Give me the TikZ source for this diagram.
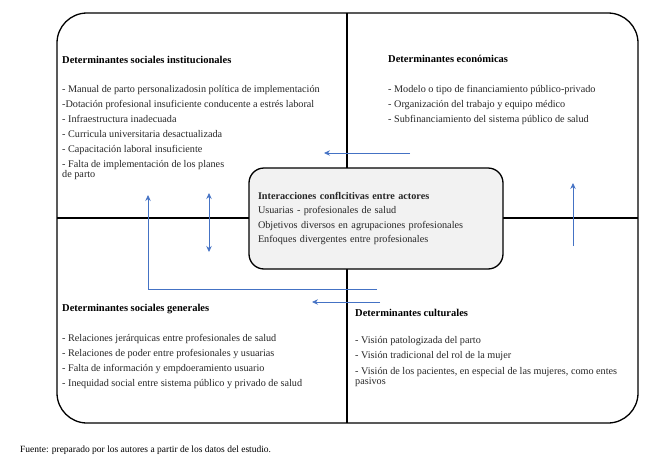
\documentclass[tikz,border=0pt]{standalone}
\usepackage{fontspec}
\setmainfont{Liberation Serif}
\usetikzlibrary{arrows.meta,positioning}
\definecolor{ArrowBlue}{RGB}{68,114,196}
\definecolor{HubGray}{RGB}{242,242,242}
\newcommand{\txtsize}{\fontsize{10.2}{10.6}\selectfont}
\tikzset{
  frame/.style={line width=1.3pt,black},
  head/.style={font=\fontsize{10.5}{11}\selectfont\bfseries,anchor=base west,inner sep=0pt},
  items/.style={font=\txtsize,anchor=north west,align=left,inner sep=0pt,text=black!85},
  hub/.style={draw=black,line width=1.3pt,fill=HubGray,rounded corners=15pt,
              minimum width=254pt,minimum height=101pt,inner xsep=9pt,
              text width=236pt,align=left,font=\txtsize,text=black!85},
  flow/.style={-{Stealth[length=2.1mm,width=1.9mm]},line width=0.8pt,ArrowBlue},
  biflow/.style={flow,{Stealth[length=2.1mm,width=1.9mm]}-{Stealth[length=2.1mm,width=1.9mm]}},
  source/.style={font=\fontsize{9.5}{10}\selectfont,anchor=base west,inner sep=0pt},
}
\begin{document}
\begin{tikzpicture}[x=1pt,y=-1pt]
  \useasboundingbox (0,0) rectangle (657,461);
  % marco de los cuadrantes
  \draw[frame,rounded corners=30pt] (57,13) rectangle (638,423);
  \draw[frame] (347,13) -- (347,423);
  \draw[frame] (57,218) -- (638,218);

  % cuadrante superior izquierdo
  \node[head] (instH) at (62,63) {Determinantes sociales institucionales};
  \node[items] (instL) at (62,85) {- Manual de parto personalizadosin política de implementación\\[4.4pt]
    -Dotación profesional insuficiente conducente a estrés laboral\\[4.4pt]
    - Infraestructura inadecuada\\[4.4pt]
    - Curricula universitaria desactualizada\\[4.4pt]
    - Capacitación laboral insuficiente\\[4.4pt]
    - Falta de implementación de los planes\\
    de parto};

  % cuadrante superior derecho
  \node[head] (econH) at (388,62) {Determinantes económicas};
  \node[items] (econL) at (388,85) {- Modelo o tipo de financiamiento público-privado\\[4.4pt]
    - Organización del trabajo y equipo médico\\[4.4pt]
    - Subfinanciamiento del sistema público de salud};

  % cuadrante inferior izquierdo
  \node[head] (genH) at (62,311) {Determinantes sociales generales};
  \node[items] (genL) at (62,334) {- Relaciones jerárquicas entre profesionales de salud\\[4.4pt]
    - Relaciones de poder entre profesionales y usuarias\\[4.4pt]
    - Falta de información y empdoeramiento usuario\\[4.4pt]
    - Inequidad social entre sistema público y privado de salud};

  % cuadrante inferior derecho
  \node[head] (cultH) at (355,316) {Determinantes culturales};
  \node[items] (cultL) at (355,336) {- Visión patologizada del parto\\[4.8pt]
    - Visión tradicional del rol de la mujer\\[4.8pt]
    - Visión de los pacientes, en especial de las mujeres, como entes\\
    pasivos};

  % caja central
  \node[hub] (actores) at (376,218.5) {\textbf{Interacciones conflcitivas entre actores}\\[3.9pt]
    Usuarias - profesionales de salud\\[3.9pt]
    Objetivos diversos en agrupaciones profesionales\\[3.9pt]
    Enfoques divergentes entre profesionales};

  % flechas
  \coordinate (econOut) at (410,153);
  \coordinate (instIn)  at (324,153);
  \draw[flow] (econOut) -- (instIn);
  \coordinate (cultUp)  at (573,246);
  \coordinate (econIn)  at (573,183);
  \draw[flow] (cultUp) -- (econIn);
  \coordinate (instDn)  at (209,193);
  \coordinate (genUp)   at (209,252);
  \draw[biflow] (instDn) -- (genUp);
  \coordinate (cultOut) at (377,289);
  \coordinate (instUp)  at (148,195);
  \draw[flow] (cultOut) -| (instUp);
  \coordinate (cultLeft) at (380,302);
  \coordinate (genIn)    at (312,302);
  \draw[flow] (cultLeft) -- (genIn);

  \node[source] (fuente) at (20,452) {Fuente: preparado por los autores a partir de los datos del estudio.};
\end{tikzpicture}
\end{document}
